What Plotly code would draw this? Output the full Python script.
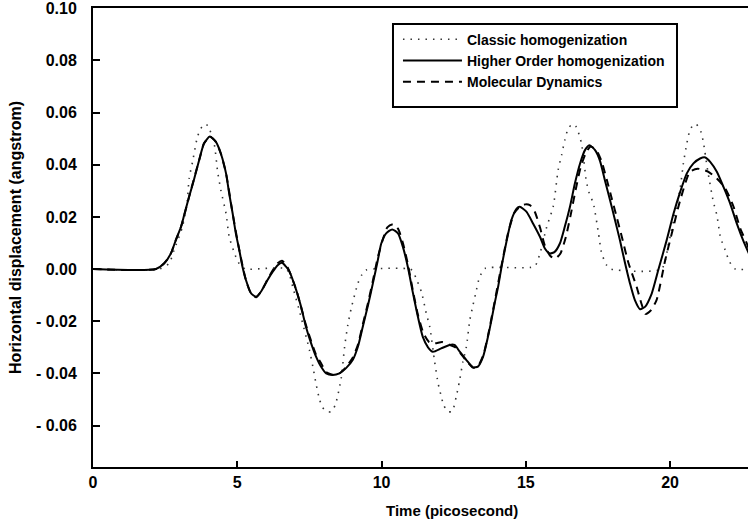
import plotly.graph_objects as go

# ---- data ----
t_classic = [0, 2.30, 2.64, 2.81, 3.10, 3.27, 3.33, 3.45, 3.62, 3.74, 3.85, 3.98, 4.20, 4.32, 4.43,
             4.61, 4.72, 4.95, 5.10, 5.30, 6.70, 6.95, 7.20, 7.50, 7.62, 7.73, 7.85, 7.95, 8.10, 8.25,
             8.40, 8.60, 8.72, 8.83, 8.95, 9.18, 9.30, 9.45, 11.00, 11.09, 11.20, 11.38, 11.55, 11.67,
             11.84, 11.96, 12.05, 12.15, 12.30, 12.45, 12.59, 12.70, 12.82, 12.94, 13.06, 13.17, 13.29,
             13.40, 13.60, 15.30, 15.49, 15.72, 15.95, 16.12, 16.24, 16.35, 16.47, 16.62, 16.75, 16.93,
             17.10, 17.20, 17.34, 17.51, 17.63, 17.80, 17.95, 19.70, 19.95, 20.15, 20.35, 20.46, 20.58,
             20.67, 20.78, 20.90, 21.07, 21.16, 21.30, 21.50, 21.62, 21.75, 21.91, 22.05, 22.26, 22.75]
v_classic = [0, 0, 0.0022, 0.0073, 0.0162, 0.0264, 0.0347, 0.0411, 0.0507, 0.0539, 0.0556, 0.0550,
             0.0480, 0.0373, 0.0303, 0.0213, 0.0124, 0.0047, 0.0015, 0, 0, -0.0080, -0.0180, -0.0310,
             -0.0374, -0.0440, -0.0500, -0.0530, -0.0547, -0.0547, -0.0520, -0.0420, -0.0298, -0.0215,
             -0.0150, -0.0055, -0.0025, -0.0004, 0, -0.0010, -0.0036, -0.0087, -0.0170, -0.0221,
             -0.0355, -0.0438, -0.0480, -0.0521, -0.0547, -0.0545, -0.0489, -0.0430, -0.0355, -0.0298,
             -0.0195, -0.0138, -0.0080, -0.0030, 0.0003, 0.0010, 0.0060, 0.0160, 0.0240, 0.0380,
             0.0437, 0.0494, 0.0539, 0.0556, 0.0545, 0.0481, 0.0335, 0.0290, 0.0252, 0.0143, 0.0060,
             0.0015, 0, 0, 0.0100, 0.0200, 0.0310, 0.0405, 0.0482, 0.0526, 0.0550, 0.0556, 0.0526,
             0.0482, 0.0380, 0.0258, 0.0207, 0.0120, 0.0073, 0.0030, 0, 0]

t_higher = [0, 2.18, 2.47, 2.70, 2.87, 3.05, 3.16, 3.33, 3.51, 3.68, 3.85, 4.05, 4.26, 4.43, 4.61,
            4.72, 4.84, 4.95, 5.07, 5.18, 5.30, 5.48, 5.65, 5.82, 6.05, 6.23, 6.40, 6.55, 6.69, 6.81,
            7.04, 7.21, 7.38, 7.56, 7.73, 7.90, 8.08, 8.31, 8.54, 8.77, 9.00, 9.18, 9.35, 9.52, 9.70,
            9.87, 9.99, 10.16, 10.37, 10.57, 10.74, 10.91, 11.09, 11.26, 11.43, 11.61, 11.78, 12.07,
            12.36, 12.53, 12.71, 12.94, 13.17, 13.34, 13.52, 13.69, 13.81, 13.92, 14.04, 14.16, 14.27,
            14.39, 14.50, 14.68, 14.79, 15.02, 15.25, 15.49, 15.66, 15.83, 16.00, 16.18, 16.35, 16.53,
            16.70, 16.88, 17.05, 17.20, 17.40, 17.57, 17.74, 17.92, 18.09, 18.26, 18.44, 18.61, 18.78,
            18.96, 19.13, 19.36, 19.60, 19.88, 20.12, 20.35, 20.58, 20.81, 21.04, 21.22, 21.39, 21.62,
            21.85, 22.08, 22.31, 22.55, 22.75]
v_higher = [0, 0, 0.0022, 0.0060, 0.0111, 0.0162, 0.0207, 0.0277, 0.0347, 0.0418, 0.0482, 0.0508,
            0.0488, 0.0443, 0.0367, 0.0290, 0.0213, 0.0137, 0.0073, 0.0009, -0.0042, -0.0093,
            -0.0106, -0.0087, -0.0042, -0.0010, 0.0015, 0.0024, 0.0009, -0.0010, -0.0080, -0.0144,
            -0.0221, -0.0285, -0.0336, -0.0374, -0.0400, -0.0406, -0.0400, -0.0380, -0.0349,
            -0.0298, -0.0221, -0.0144, -0.0055, 0.0034, 0.0098, 0.0137, 0.0152, 0.0137, 0.0085,
            0.0009, -0.0093, -0.0183, -0.0260, -0.0300, -0.0317, -0.0304, -0.0291, -0.0291, -0.0317,
            -0.0349, -0.0377, -0.0374, -0.0336, -0.0259, -0.0195, -0.0131, -0.0068, 0.0009, 0.0073,
            0.0137, 0.0188, 0.0232, 0.0239, 0.0220, 0.0175, 0.0124, 0.0079, 0.0060, 0.0066, 0.0098,
            0.0162, 0.0239, 0.0328, 0.0405, 0.0456, 0.0475, 0.0456, 0.0415, 0.0341, 0.0264, 0.0188,
            0.0111, 0.0022, -0.0055, -0.0119, -0.0154, -0.0145, -0.0095, 0.0000, 0.0110, 0.0213,
            0.0296, 0.0367, 0.0405, 0.0424, 0.0428, 0.0411, 0.0373, 0.0315, 0.0252, 0.0175, 0.0105,
            0.0055]

t_md = [0, 2.18, 2.47, 2.70, 2.87, 3.05, 3.33, 3.68, 3.85, 4.05, 4.26, 4.43, 4.61, 4.84, 5.07, 5.30,
        5.48, 5.65, 5.82, 6.05, 6.23, 6.40, 6.55, 6.72, 7.04, 7.38, 7.73, 7.90, 8.08, 8.31, 8.54,
        8.77, 9.00, 9.18, 9.35, 9.52, 9.70, 9.87, 10.05, 10.20, 10.40, 10.57, 10.74, 10.91, 11.09,
        11.26, 11.45, 11.65, 11.85, 12.10, 12.35, 12.55, 12.75, 12.94, 13.17, 13.34, 13.52, 13.69,
        13.92, 14.16, 14.39, 14.60, 14.80, 14.98, 15.14, 15.31, 15.49, 15.66, 15.85, 16.02, 16.20,
        16.38, 16.55, 16.72, 16.90, 17.08, 17.25, 17.45, 17.62, 17.80, 17.98, 18.16, 18.34, 18.56,
        18.84, 19.00, 19.15, 19.32, 19.53, 19.83, 20.06, 20.35, 20.69, 20.95, 21.15, 21.33, 21.62,
        21.91, 22.20, 22.43, 22.66, 22.75]
v_md = [0, 0, 0.0022, 0.0060, 0.0111, 0.0162, 0.0277, 0.0418, 0.0482, 0.0508, 0.0488, 0.0443,
        0.0367, 0.0213, 0.0073, -0.0042, -0.0095, -0.0108, -0.0087, -0.0040, -0.0005, 0.0022,
        0.0032, 0.0012, -0.0078, -0.0215, -0.0328, -0.0360, -0.0395, -0.0405, -0.0400, -0.0376,
        -0.0340, -0.0290, -0.0212, -0.0135, -0.0045, 0.0045, 0.0115, 0.0160, 0.0172, 0.0155,
        0.0100, 0.0020, -0.0085, -0.0175, -0.0245, -0.0280, -0.0285, -0.0280, -0.0290, -0.0300,
        -0.0325, -0.0352, -0.0378, -0.0372, -0.0332, -0.0255, -0.0125, 0.0015, 0.0140, 0.0215,
        0.0240, 0.0248, 0.0245, 0.0220, 0.0160, 0.0090, 0.0050, 0.0040, 0.0060, 0.0120, 0.0205,
        0.0300, 0.0390, 0.0445, 0.0470, 0.0455, 0.0415, 0.0345, 0.0270, 0.0195, 0.0118, 0.0022,
        -0.0068, -0.0130, -0.0172, -0.0160, -0.0119, 0.0034, 0.0137, 0.0264, 0.0373, 0.0385,
        0.0380, 0.0373, 0.0347, 0.0310, 0.0239, 0.0156, 0.0098, 0.0070]

series_names = ["Classic homogenization", "Higher Order homogenization", "Molecular Dynamics"]
x_tick_vals = [0, 5, 10, 15, 20]
y_tick_vals = [-0.06, -0.04, -0.02, 0.00, 0.02, 0.04, 0.06, 0.08, 0.10]
y_tick_text = ["- 0.06", "- 0.04", "- 0.02", "0.00", "0.02", "0.04", "0.06", "0.08", "0.10"]
x_title = "Time (picosecond)"
y_title = "Horizontal displacement (angstrom)"

FONT = "Liberation Sans, Arial, sans-serif"

fig = go.Figure()
fig.add_trace(go.Scatter(x=t_classic, y=v_classic, mode="lines", name=series_names[0],
                         line=dict(color="#333333", width=1.6, dash="1.5px,6px", shape="spline", smoothing=0.6)))
fig.add_trace(go.Scatter(x=t_higher, y=v_higher, mode="lines", name=series_names[1],
                         line=dict(color="black", width=2, shape="spline", smoothing=0.6)))
fig.add_trace(go.Scatter(x=t_md, y=v_md, mode="lines", name=series_names[2],
                         line=dict(color="black", width=2, dash="8px,6px", shape="spline", smoothing=0.6)))

# legend frame (drawn as a layout rectangle around the legend)
fig.add_shape(type="rect", xref="paper", yref="paper", x0=0.458, x1=0.8916, y0=0.7843, y1=0.9651,
              line=dict(color="black", width=2), fillcolor="white", layer="above")

# x-axis title (off-centre in the reference, so placed as an annotation)
fig.add_annotation(text=x_title, xref="paper", yref="paper", x=0.548, y=-0.0937,
                   xanchor="center", yanchor="middle", showarrow=False,
                   font=dict(family=FONT, size=15, weight="bold", color="black"))

fig.update_layout(
    width=748, height=519,
    margin=dict(l=93, r=0, t=8, b=52),
    paper_bgcolor="white", plot_bgcolor="white",
    font=dict(family=FONT, color="black", size=15),
    showlegend=True,
    legend=dict(x=0.4656, y=0.9658, xanchor="left", yanchor="top",
                bgcolor="rgba(0,0,0,0)", borderwidth=0,
                font=dict(family=FONT, size=14, weight="bold", color="black"),
                itemwidth=59, tracegroupgap=0),
    xaxis=dict(range=[0, 22.7], tickvals=x_tick_vals, ticks="inside", ticklen=6, tickwidth=2,
               tickcolor="black", showline=True, linecolor="black", linewidth=2, mirror=True,
               showgrid=False, zeroline=False, ticklabeloverflow="allow", automargin=False,
               tickfont=dict(family=FONT, size=16, weight="bold")),
    yaxis=dict(range=[-0.0759, 0.1001], tickvals=y_tick_vals, ticktext=y_tick_text, ticks="inside",
               ticklen=7, tickwidth=2, tickcolor="black", showline=True, linecolor="black",
               linewidth=2, mirror=False, showgrid=False, zeroline=False, automargin=False,
               ticklabelstandoff=11, ticklabeloverflow="allow",
               tickfont=dict(family=FONT, size=16, weight="bold"),
               title=dict(text=y_title, font=dict(family=FONT, size=16, weight="bold"), standoff=10)),
)

fig.write_html("out.html", config={"displayModeBar": False},
               post_script="document.body.style.margin='0';")
